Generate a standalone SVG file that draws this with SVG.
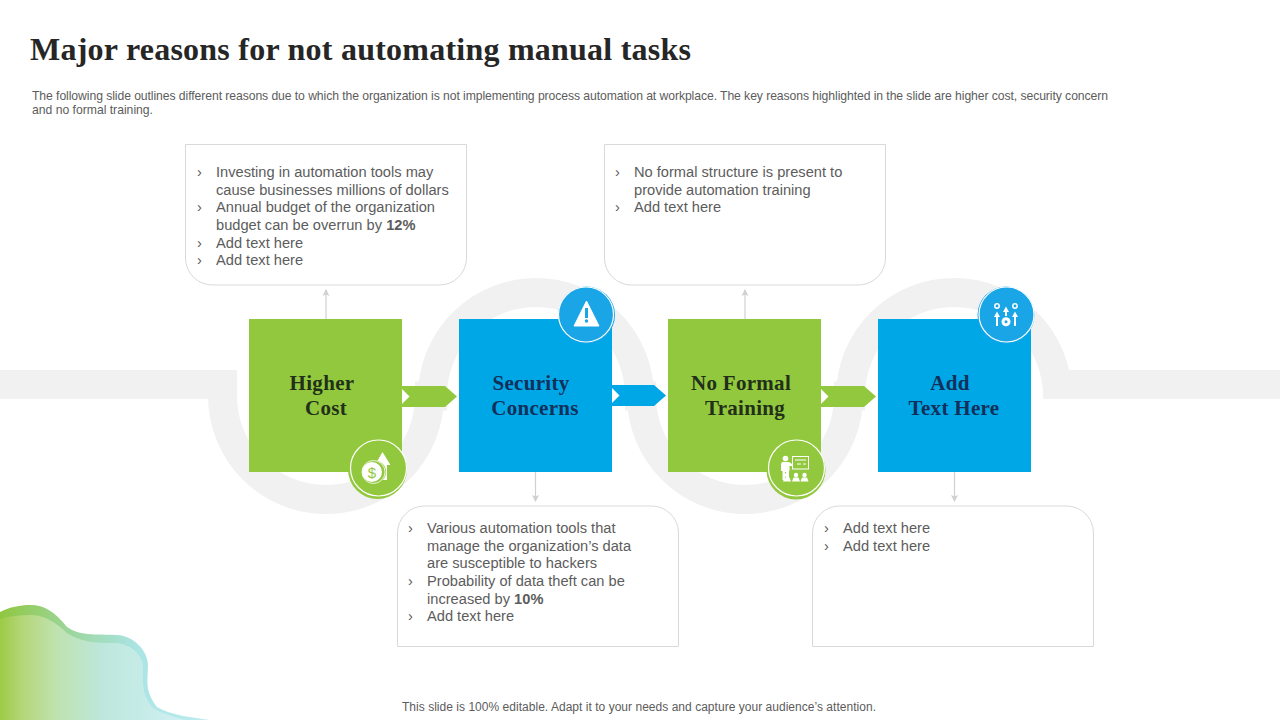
<svg xmlns="http://www.w3.org/2000/svg" width="1280" height="720" viewBox="0 0 1280 720">
<style>
.t{font-family:"Liberation Serif",serif;font-weight:700}
.s{font-family:"Liberation Sans",Arial,sans-serif;fill:#5c5c5c}
.b{font-size:14.650px}
.n{font-size:21px;text-anchor:middle;letter-spacing:.3px}
.box{fill:#fff;stroke:#d9d9d9;stroke-width:1}
.thin{stroke:#d0d0d0;stroke-width:1.2;fill:none;marker-end:url(#ah)}
.w{fill:#fff}
.ws{stroke:#fff;fill:none}
</style>
<defs>
<marker id="ah" markerUnits="userSpaceOnUse" markerWidth="8" markerHeight="8" refX="6" refY="3.5" orient="auto"><path d="M0 0L7 3.5L0 7L1.5 3.5Z" fill="#d0d0d0"/></marker>
<linearGradient id="g1" x1="0" x2="1" y1="0" y2="0"><stop offset="0" stop-color="#8fc73f"/><stop offset=".33" stop-color="#9cd69c"/><stop offset=".65" stop-color="#aae4e4"/><stop offset="1" stop-color="#c0ecf0"/></linearGradient>
<linearGradient id="g2" x1="0" x2="1" y1="0" y2="0"><stop offset="0" stop-color="#9ccb45"/><stop offset=".12" stop-color="#b4d678"/><stop offset=".3" stop-color="#bfe2ae"/><stop offset=".55" stop-color="#bde7dc"/><stop offset="1" stop-color="#d0f0f3"/></linearGradient>
</defs>
<rect width="1280" height="720" fill="#fff"/>
<g id="band" fill="none" stroke="#f1f1f1" stroke-width="29">
<path d="M0 384.500H237"/><path d="M1043 384.500H1280"/>
<path d="M222.500 399V396A103.500 103.500 0 0 0 429.500 396L432.500 396A103.500 103.500 0 0 1 639.500 396L641.500 396A103.500 103.500 0 0 0 848.500 396L850.500 396A103.500 103.500 0 0 1 1057.500 396V399"/>
</g>
<g id="blob">
<path fill="url(#g1)" d="M0 612C10 607 20 605 30 605C45 605 55 612 67 627C80 636 95 634 117 635C135 636 148 652 148 665C148 680 144 690 157 707C170 715 190 717 210 720H0Z"/>
<path fill="url(#g2)" d="M0 619C10 616 20 615 30 615C45 615 55 622 67 633C80 642 95 643 117 643C132 645 143 655 143 668C143 680 141 695 153 708C165 715 175 717 185 720H0Z"/>
</g>
<text id="title" class="t" x="30" y="60" font-size="32" fill="#262626" textLength="661" lengthAdjust="spacing">Major reasons for not automating manual tasks</text>
<g id="desc" class="s" font-size="12.200">
<text x="32" y="100" textLength="1076">The following slide outlines different reasons due to which the organization is not implementing process automation at workplace. The key reasons highlighted in the slide are higher cost, security concern</text>
<text x="32" y="114" textLength="121">and no formal training.</text>
</g>
<g id="connectors">
<path class="thin" d="M326 319V290"/>
<path class="thin" d="M745 319V290"/>
<path class="thin" d="M535.500 472V501"/>
<path class="thin" d="M954.500 472V501"/>
<g id="arrow-1"><path fill="#92c83e" d="M402 386H445L457 396.500L445 407H402Z"/><path class="w" d="M402 389L409.500 396.500L402 404Z"/></g>
<g id="arrow-2"><path fill="#00a7e7" d="M612 385H654L666 395.500L654 406H612Z"/><path class="w" d="M612 388L619.500 395.500L612 403Z"/></g>
<g id="arrow-3"><path fill="#92c83e" d="M821 386H864L876 396.500L864 407H821Z"/><path class="w" d="M821 389L828.500 396.500L821 404Z"/></g>
</g>
<g id="node-higher-cost">
<rect x="249" y="319" width="153" height="153" fill="#92c83e"/>
<text class="t n" fill="#22301a"><tspan x="322" y="390">Higher</tspan><tspan x="326" y="415">Cost</tspan></text>
<circle cx="377.500" cy="469.500" r="29.500" fill="#92c83e"/>
<circle cx="378.500" cy="468" r="28" fill="#92c83e" stroke="#fff" stroke-width="1.200"/>
<path class="w" d="M382.500 452L390.500 465H387V480H378V465H375Z"/>
<circle cx="374.500" cy="472" r="11.500" fill="#92c83e"/>
<circle cx="372" cy="472" r="10" class="w"/>
<circle cx="373.500" cy="472" r="11.500" class="ws" stroke-width=".8"/>
<text x="372" y="477.500" font-family="Liberation Sans,sans-serif" font-size="15" text-anchor="middle" fill="#92c83e">$</text>
</g>
<g id="node-security-concerns">
<rect x="459" y="319" width="153" height="153" fill="#00a7e7"/>
<text class="t n" fill="#12305a"><tspan x="531" y="390">Security</tspan><tspan x="535" y="415">Concerns</tspan></text>
<circle cx="586.500" cy="315" r="28.500" fill="#19a5e6"/>
<circle cx="586" cy="314.500" r="27.500" fill="#19a5e6" stroke="#fff" stroke-width="1.200"/>
<path class="w" d="M586.500 301L599 326H574Z" stroke="#fff" stroke-linejoin="round" stroke-width="1"/>
<rect x="585" y="308" width="3" height="10" fill="#19a5e6"/><circle cx="586.500" cy="321" r="1.700" fill="#19a5e6"/>
</g>
<g id="node-no-formal-training">
<rect x="668" y="319" width="153" height="153" fill="#92c83e"/>
<text class="t n" fill="#22301a"><tspan x="741" y="390">No Formal</tspan><tspan x="745" y="415">Training</tspan></text>
<circle cx="796" cy="470" r="29.500" fill="#92c83e"/>
<circle cx="796.500" cy="468" r="28" fill="#92c83e" stroke="#fff" stroke-width="1.200"/>
<circle cx="785.500" cy="458.500" r="2.800" class="w"/>
<path class="w" d="M782 462H789L792 464V466H789.500V471H789V470V480H786V472H785V480H782.500V471H781V464Z"/>
<rect x="792.500" y="456.500" width="16" height="12.500" fill="none" stroke="#fff" stroke-width="1"/>
<path class="ws" d="M795 460H806M797 464H801M803 464H806" stroke-width="1"/>
<g class="w"><circle cx="787" cy="475" r="2.200"/><path d="M783 481.500L784.500 477.500H789.500L791 481.500Z"/><circle cx="796" cy="475" r="2.200"/><path d="M792 481.500L793.500 477.500H798.500L800 481.500Z"/><circle cx="804.500" cy="475" r="2.200"/><path d="M800.500 481.500L802 477.500H807L808.500 481.500Z"/></g>
</g>
<g id="node-add-text-here">
<rect x="878" y="319" width="153" height="153" fill="#00a7e7"/>
<text class="t n" fill="#12305a"><tspan x="950" y="390">Add</tspan><tspan x="954" y="415">Text Here</tspan></text>
<circle cx="1006" cy="315" r="28.500" fill="#19a5e6"/>
<circle cx="1006.500" cy="314.500" r="27.500" fill="#19a5e6" stroke="#fff" stroke-width="1.200"/>
<g class="ws" stroke-width="1.500"><circle cx="997" cy="306" r="2.200"/><circle cx="1015" cy="306" r="2.200"/></g>
<g class="w"><path d="M997 311.500L1000 317H998V326H996V317H994Z"/><path d="M1006 306.500L1009 312H1007V316H1005V312H1003Z"/><path d="M1015 311.500L1018 317H1016V326H1014V317H1012Z"/><circle cx="1006" cy="321.700" r="4.500"/></g>
<circle cx="1006" cy="321.700" r="1.500" fill="#19a5e6"/>
</g>
<g id="box-1">
<path class="box" d="M185.500 144.500H466.500V258A27 27 0 0 1 439.500 285H212.500A27 27 0 0 1 185.500 258Z"/>
<text class="s b"><tspan x="197" y="177">›</tspan><tspan x="216" y="177">Investing in automation tools may</tspan><tspan x="216" y="195">cause businesses millions of dollars</tspan><tspan x="197" y="212">›</tspan><tspan x="216" y="212">Annual budget of the organization</tspan><tspan x="216" y="230">budget can be overrun by </tspan><tspan font-weight="700">12%</tspan><tspan x="197" y="248">›</tspan><tspan x="216" y="248">Add text here</tspan><tspan x="197" y="265">›</tspan><tspan x="216" y="265">Add text here</tspan></text>
</g>
<g id="box-2">
<path class="box" d="M397.500 646.500H678.500V533A27 27 0 0 0 651.500 506H424.500A27 27 0 0 0 397.500 533Z"/>
<text class="s b"><tspan x="408" y="533">›</tspan><tspan x="427" y="533">Various automation tools that</tspan><tspan x="427" y="551">manage the organization’s data</tspan><tspan x="427" y="568">are susceptible to hackers</tspan><tspan x="408" y="586">›</tspan><tspan x="427" y="586">Probability of data theft can be</tspan><tspan x="427" y="604">increased by </tspan><tspan font-weight="700">10%</tspan><tspan x="408" y="621">›</tspan><tspan x="427" y="621">Add text here</tspan></text>
</g>
<g id="box-3">
<path class="box" d="M604.500 144.500H885.500V258A27 27 0 0 1 858.500 285H631.500A27 27 0 0 1 604.500 258Z"/>
<text class="s b"><tspan x="615" y="177">›</tspan><tspan x="634" y="177">No formal structure is present to</tspan><tspan x="634" y="195">provide automation training</tspan><tspan x="615" y="212">›</tspan><tspan x="634" y="212">Add text here</tspan></text>
</g>
<g id="box-4">
<path class="box" d="M812.500 646.500H1093.500V533A27 27 0 0 0 1066.500 506H839.500A27 27 0 0 0 812.500 533Z"/>
<text class="s b"><tspan x="824" y="533">›</tspan><tspan x="843" y="533">Add text here</tspan><tspan x="824" y="551">›</tspan><tspan x="843" y="551">Add text here</tspan></text>
</g>
<text id="footer" class="s" x="402" y="711" font-size="12" textLength="474">This slide is 100% editable. Adapt it to your needs and capture your audience’s attention.</text>
</svg>
